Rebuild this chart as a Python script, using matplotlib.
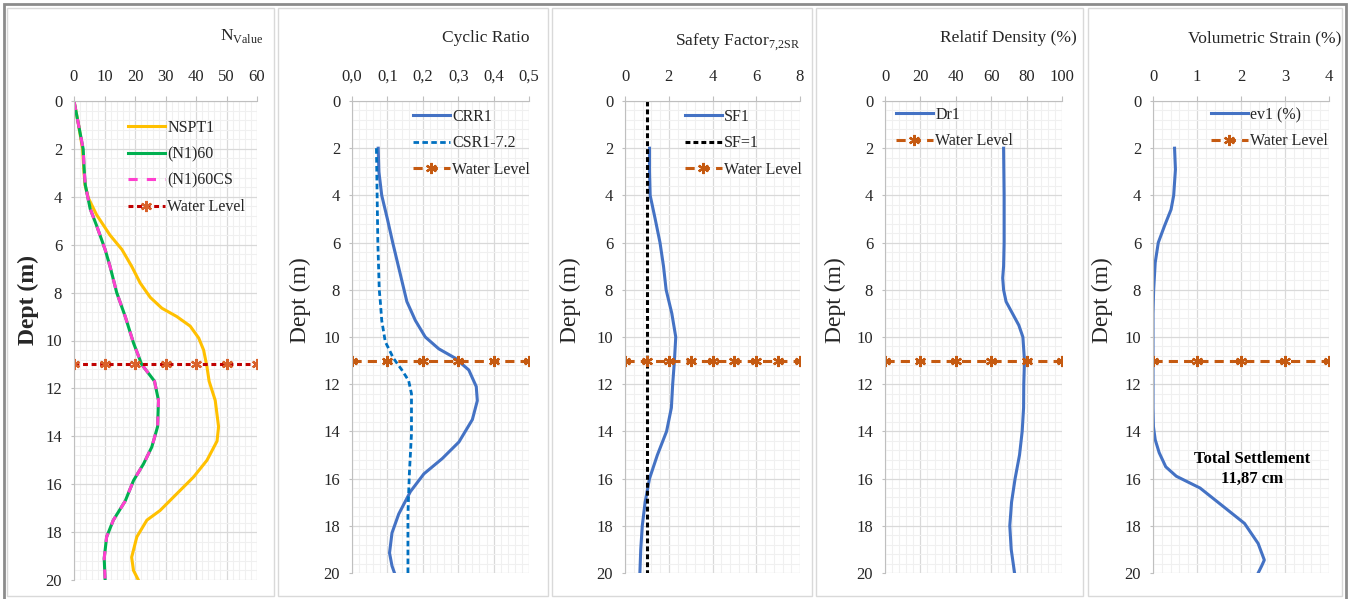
"""Liquefaction profile: five depth panels (N value, cyclic ratio, safety factor,
relative density, volumetric strain) drawn Excel-style side by side.

Writes out.png.
"""
import matplotlib; matplotlib.use("Agg")
import matplotlib.pyplot as plt
from matplotlib.patches import Rectangle
from matplotlib.ticker import MultipleLocator, AutoMinorLocator, FuncFormatter

plt.rcParams["font.family"] = ["Liberation Serif", "DejaVu Serif"]
plt.rcParams["mathtext.fontset"] = "custom"
plt.rcParams["mathtext.rm"] = "Liberation Serif"
plt.rcParams["lines.solid_joinstyle"] = "round"
plt.rcParams["lines.dash_joinstyle"] = "round"

W, H = 1350, 599
FS = 12
TXT = "#262626"
BLUE = "#4472C4"
ORANGE = "#C55A11"
WL_DEPTH = 11

# panel 1 : N values
NSPT_DEPTH = [0, 1, 2, 3, 3.5, 4.05, 4.75, 5.6, 6.2, 6.9, 7.6, 8.2, 8.65, 9.0, 9.4, 9.9, 10.4, 11.1,
              11.7, 12.5, 13.6, 14.2, 15.0, 15.7, 16.4, 17.1, 17.5, 18.2, 19.05, 19.6, 20]
NSPT = [0, 1.5, 2.8, 3.3, 3.6, 4.7, 7.4, 11.8, 15.7, 18.9, 21.7, 25, 28.8, 33.7, 38.1, 40.9, 42.5, 43.6,
        44.3, 46.3, 47.4, 46.9, 43.6, 39.2, 33.7, 28.2, 23.9, 20.6, 18.9, 19.5, 21.1]
N160_DEPTH = [0, 1, 2, 3, 3.5, 4.5, 5.2, 6.2, 6.9, 8.0, 9.0, 10.1, 11.0, 11.7, 12.5, 13.6, 14.45,
              15.15, 15.85, 16.7, 17.5, 18.2, 19.1, 20]
N160 = [0, 1.5, 3.0, 3.4, 3.7, 5.3, 7.4, 10.2, 11.8, 14.0, 16.8, 19.5, 22.2, 26.4, 27.7, 27.4, 25.5,
        22.8, 19.5, 16.8, 12.9, 10.7, 9.9, 10.2]
N160CS = N160
WL1_X = [0, 10, 20, 30, 40, 50, 60]

# panel 2 : cyclic ratio
CRR_DEPTH = [2, 3, 4, 5, 6, 7, 8, 8.5, 9.3, 10, 10.5, 10.9, 11.4, 12.1, 12.7, 13.5, 14.45, 15.15,
             15.8, 16.55, 17.5, 18.3, 19.15, 19.7, 20]
CRR = [0.074, 0.076, 0.084, 0.100, 0.115, 0.131, 0.147, 0.155, 0.179, 0.207, 0.245, 0.292, 0.330,
       0.351, 0.354, 0.340, 0.302, 0.255, 0.203, 0.165, 0.132, 0.113, 0.106, 0.113, 0.120]
CSR_DEPTH = [2, 4, 6, 8, 8.5, 9.3, 10.2, 10.9, 11.4, 11.85, 12.4, 14.1, 15.8, 17.5, 20]
CSR = [0.069, 0.071, 0.073, 0.077, 0.080, 0.084, 0.094, 0.117, 0.141, 0.160, 0.168, 0.168, 0.162,
       0.158, 0.158]
WL2_X = [0.0, 0.1, 0.2, 0.3, 0.4, 0.5]

# panel 3 : safety factor
SF_DEPTH = [2, 3, 4, 5, 6, 7, 8, 9, 10, 11, 12, 13, 14, 15, 16, 17, 18, 19, 20]
SF = [1.12, 1.12, 1.15, 1.38, 1.60, 1.76, 1.88, 2.14, 2.32, 2.26, 2.18, 2.12, 1.90, 1.48, 1.12,
      0.92, 0.79, 0.72, 0.68]
SF1_DEPTH = [0, 20]
SF1 = [1, 1]
WL3_X = [0, 1, 2, 3, 4, 5, 6, 7, 8]

# panel 4 : relative density
DR_DEPTH = [2, 4, 6, 7, 7.5, 8, 8.5, 9, 9.5, 10, 11, 12, 13, 14, 15, 16, 17, 18, 19, 20]
DR = [67, 67.3, 67.3, 67, 66.5, 67, 68.4, 72, 75.6, 77.9, 78.8, 78.4, 78.3, 77.5, 76, 73.5, 71.5,
      70.5, 71.3, 73.2]
WL4_X = [0, 20, 40, 60, 80, 100]

# panel 5 : volumetric strain
EV_DEPTH = [2, 2.9, 4, 4.6, 5.3, 6, 6.85, 8, 9, 10, 11, 12, 13, 13.8, 14.35, 14.9, 15.5, 15.9,
            16.4, 17.2, 17.9, 18.75, 19.45, 19.7, 20]
EV = [0.49, 0.51, 0.47, 0.41, 0.26, 0.12, 0.05, 0.015, 0.0, 0.0, 0.0, 0.0, 0.0, 0.01, 0.05, 0.14,
      0.29, 0.53, 1.07, 1.61, 2.08, 2.39, 2.53, 2.47, 2.39]
WL5_X = [0, 1, 2, 3, 4]

# pixel layout of each panel
PANELS = [
    dict(x0=74, x1=257, y1=580, ylab=30, tx=263, ty=36, lx=128, ly=128, box=(7, 274),
         xlim=(0, 60), major=10, fmt=lambda v, p: f"{v:.0f}", title=r"N$_{\mathrm{Value}}$", bold=True),
    dict(x0=352, x1=529, y1=573, ylab=302, tx=529, ty=38, lx=413, ly=117, box=(278, 548),
         xlim=(0, 0.5), major=0.1, fmt=lambda v, p: f"{v:.1f}".replace(".", ","), title="Cyclic Ratio", bold=False),
    dict(x0=625, x1=800, y1=573, ylab=572, tx=800, ty=42, lx=685, ly=117, box=(552, 812),
         xlim=(0, 8), major=2, fmt=lambda v, p: f"{v:.0f}", title=r"Safety Factor$_{\mathrm{7{,}2SR}}$", bold=False),
    dict(x0=885, x1=1062, y1=573, ylab=837, tx=1077, ty=38, lx=896, ly=115, box=(816, 1083),
         xlim=(0, 100), major=20, fmt=lambda v, p: f"{v:.0f}", title="Relatif Density (%)", bold=False),
    dict(x0=1153, x1=1329, y1=573, ylab=1104, tx=1341, ty=38, lx=1211, ly=115, box=(1088, 1342),
         xlim=(0, 4), major=1, fmt=lambda v, p: f"{v:.0f}", title="Volumetric Strain (%)", bold=False),
]
Y_TOP = 101


def fx(px):
    return px / W


def fy(py):
    return 1 - py / H


def style_axes(ax, p):
    ax.set_xlim(*p["xlim"])
    ax.set_ylim(20, 0)
    ax.xaxis.tick_top()
    ax.xaxis.set_major_locator(MultipleLocator(p["major"]))
    ax.xaxis.set_minor_locator(AutoMinorLocator(5))
    ax.xaxis.set_major_formatter(FuncFormatter(p["fmt"]))
    ax.yaxis.set_major_locator(MultipleLocator(2))
    ax.yaxis.set_minor_locator(AutoMinorLocator(5))
    ax.grid(which="major", color="#d9d9d9", lw=0.9)
    ax.grid(which="minor", color="#f0f0f0", lw=0.8)
    ax.set_axisbelow(True)
    for s in ("right", "bottom"):
        ax.spines[s].set_visible(False)
    for s in ("left", "top"):
        ax.spines[s].set_color("#bfbfbf")
    ax.tick_params(axis="x", which="major", length=3.5, pad=8, color="#bfbfbf", labelsize=FS, labelcolor=TXT)
    ax.tick_params(axis="y", which="major", length=2.5, pad=6, color="#bfbfbf", labelsize=FS, labelcolor=TXT)
    ax.tick_params(which="minor", length=0)
    ax.set_ylabel("Dept (m)", fontsize=17, color=TXT, fontweight="bold" if p["bold"] else "normal")
    ax.yaxis.set_label_coords((p["ylab"] + 9 - p["x0"]) / (p["x1"] - p["x0"]),
                              1 - (300 - Y_TOP) / (p["y1"] - Y_TOP))


def water(ax, xs, color, mcolor, dashes):
    ax.plot(xs, [WL_DEPTH] * len(xs), color=color, lw=2.2, dashes=dashes, marker=(6, 2, 0),
            ms=8, mec=mcolor, mfc=mcolor, mew=1.6, label="Water Level")


def legend(ax, p):
    x = (p["lx"] - p["x0"]) / (p["x1"] - p["x0"])
    y = 1 - (p["ly"] - 8 - Y_TOP) / (p["y1"] - Y_TOP)
    ax.legend(loc="upper left", bbox_to_anchor=(x, y), frameon=False, fontsize=11.5, borderpad=0,
              borderaxespad=0, handlelength=2.3, handletextpad=0.15, labelspacing=0.65, numpoints=1,
              labelcolor=TXT)


def main():
    fig = plt.figure(figsize=(W / 100, H / 100), dpi=100)

    # panel frames
    for p in PANELS:
        l, r = p["box"]
        fig.add_artist(Rectangle((fx(l), fy(596)), fx(r - l), fy(8) - fy(596), transform=fig.transFigure,
                                 fill=False, ec="#d9d9d9", lw=1))
    fig.add_artist(Rectangle((fx(4), fy(620)), fx(1342), fy(4) - fy(620), transform=fig.transFigure,
                             fill=False, ec="#8c8c8c", lw=2))

    axes = []
    for p in PANELS:
        ax = fig.add_axes([fx(p["x0"]), fy(p["y1"]), fx(p["x1"] - p["x0"]), (p["y1"] - Y_TOP) / H])
        style_axes(ax, p)
        fig.text(fx(p["tx"]), fy(p["ty"]), p["title"], ha="right", va="center", fontsize=12.5, color=TXT)
        axes.append(ax)

    ax = axes[0]
    ax.plot(NSPT, NSPT_DEPTH, color="#FFC000", lw=2.2, label="NSPT1")
    ax.plot(N160, N160_DEPTH, color="#00B050", lw=2.2, label="(N1)60")
    ax.plot(N160CS, N160_DEPTH, color="#FF3FCF", lw=2.2, dashes=(3, 3), label="(N1)60CS")
    water(ax, WL1_X, "#C00000", "#D9622B", (1.6, 1.2))
    legend(ax, PANELS[0])

    ax = axes[1]
    ax.plot(CRR, CRR_DEPTH, color=BLUE, lw=2.2, label="CRR1")
    ax.plot(CSR, CSR_DEPTH, color="#0070C0", lw=2.0, dashes=(2, 1.2), label="CSR1-7.2")
    water(ax, WL2_X, ORANGE, ORANGE, (3, 2))
    legend(ax, PANELS[1])

    ax = axes[2]
    ax.plot(SF, SF_DEPTH, color=BLUE, lw=2.2, label="SF1")
    ax.plot(SF1, SF1_DEPTH, color="black", lw=2.2, dashes=(1.6, 1.0), label="SF=1")
    water(ax, WL3_X, ORANGE, ORANGE, (3, 2))
    legend(ax, PANELS[2])

    ax = axes[3]
    ax.plot(DR, DR_DEPTH, color=BLUE, lw=2.2, label="Dr1")
    water(ax, WL4_X, ORANGE, ORANGE, (3, 2))
    legend(ax, PANELS[3])

    ax = axes[4]
    ax.plot(EV, EV_DEPTH, color=BLUE, lw=2.2, label="ev1 (%)")
    water(ax, WL5_X, ORANGE, ORANGE, (3, 2))
    legend(ax, PANELS[4])
    ax.text(2.25, 15.6, "Total Settlement\n11,87 cm", ha="center", va="center", fontsize=12,
            fontweight="bold", color="black", linespacing=1.3)

    fig.savefig("out.png", dpi=100, facecolor="white")


if __name__ == "__main__":
    main()
